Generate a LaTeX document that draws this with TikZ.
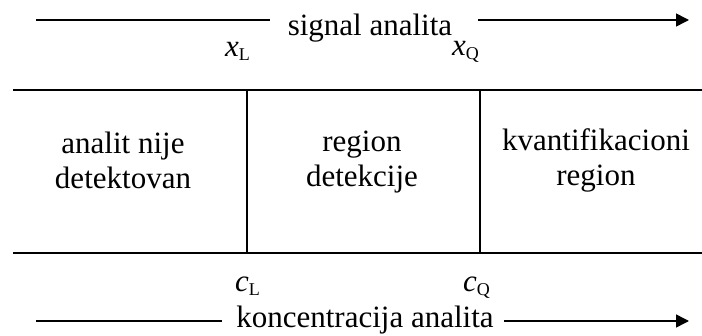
\documentclass[tikz,border=0pt]{standalone}
\usepackage{fontspec}
\setmainfont{Liberation Serif}
\usetikzlibrary{arrows.meta}
\newcommand\symsub[2]{\textit{#1}\raisebox{-4pt}{\fontsize{18}{18}\selectfont #2}}
\begin{document}
\begin{tikzpicture}[x=1pt,y=-1pt,
  txt/.style={font=\fontsize{31}{35}\selectfont,inner sep=0pt,align=center},
  sym/.style={font=\fontsize{31}{35}\selectfont,inner sep=0pt,anchor=base west},
  rule/.style={line width=1.5pt},
  axis/.style={line width=1.5pt,-{Triangle[length=13pt,width=13pt]}}
]
\useasboundingbox (0,0) rectangle (702,336);
% axis labels
\node[txt,anchor=base] (signal) at (370,36) {signal analita};
\node[txt,anchor=base] (konc) at (365,328) {koncentracija analita};
\coordinate (sigL) at (36,20);
\coordinate (sigR) at (689,20);
\coordinate (konL) at (36,321);
\coordinate (konR) at (689,321);
\draw[rule] (sigL) -- ([xshift=-18pt]signal.west |- sigL);
\draw[axis] ([xshift=26pt]signal.east |- sigR) -- (sigR);
\draw[rule] (konL) -- ([xshift=-14pt]konc.west |- konL);
\draw[axis] ([xshift=10pt]konc.east |- konR) -- (konR);
% limits
\node[sym] (xL) at (225,57) {\symsub{x}{L}};
\node[sym] (xQ) at (452,56) {\symsub{x}{Q}};
\node[sym] (cL) at (235,292) {\symsub{c}{L}};
\node[sym] (cQ) at (463,292) {\symsub{c}{Q}};
% table of regions
\coordinate (tl) at (13,90);
\coordinate (tr) at (702,90);
\coordinate (bl) at (13,253);
\coordinate (br) at (702,253);
\coordinate (lt) at (247,90);
\coordinate (lb) at (247,253);
\coordinate (qt) at (480,90);
\coordinate (qb) at (480,253);
\draw[rule] (tl) -- (tr);
\draw[rule] (bl) -- (br);
\draw[rule] (lt) -- (lb);
\draw[rule] (qt) -- (qb);
\node[txt] (nije) at (123,160) {analit nije\\detektovan};
\node[txt] (det) at (362,162) {region\\detekcije};
\node[txt] (kvant) at (596,160) {kvantifikacioni\\region};
\end{tikzpicture}
\end{document}
